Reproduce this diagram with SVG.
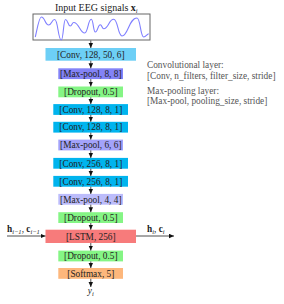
<svg xmlns="http://www.w3.org/2000/svg" width="284" height="304" viewBox="0 0 284 304">
<defs>
<style>
text{font-family:"Liberation Serif","Times New Roman",serif;font-size:9.3px;fill:#222}
.lbl{text-anchor:middle}
.note{fill:#555}
.sub{font-size:6.5px}
.b{font-weight:bold}
.it{font-style:italic}
.conv1{fill:#6dcff6}
.conv{fill:#00b4ee}
.pool1{fill:#8383f7}
.pool2{fill:#a3a3fa}
.pool3{fill:#bcbcfb}
.drop{fill:#85f585}
.lstm{fill:#f77b7b}
.soft{fill:#fdb77c}
.arr{stroke:#222;stroke-width:0.8;fill:none;marker-end:url(#ah)}
</style>
<marker id="ah" markerUnits="userSpaceOnUse" markerWidth="6" markerHeight="6" refX="5" refY="2.25" orient="auto">
<path d="M0,0 L5,2.25 L0,4.5 z" fill="#111"/>
</marker>
</defs>
<rect width="284" height="304" fill="#fff"/>

<g id="input">
<text x="55" y="10.7" style="font-size:10px">Input EEG signals <tspan class="b">x</tspan><tspan class="sub it" dy="1.8">i</tspan></text>
<rect x="33" y="14" width="117" height="26" fill="#fff" stroke="#666" stroke-width="1"/>
<path d="M35.3,37 C37,30 39,17 41.3,17 C45,17 45,25 48.7,25 C51.7,25 51.7,19.5 54.7,19.5 C58,19.5 58,40 61.3,40 C63.4,40 63.4,19.5 65.5,19.5 C67.9,19.5 67.9,26 70.3,26 C72,26 72,22.5 73.7,22.5 C79,22.5 80,33 84.7,33 C88,33 88,19.3 91.3,19.3 C93.3,19.3 93.3,32 95.3,32 C97.8,32 97.8,24.7 100.3,24.7 C102,24.7 102,28.7 103.7,28.7 C108.7,28.7 108.7,19.3 113.7,19.3 C117.9,19.3 117.9,36 122,36 C128,36 129,18 137,18 C140.4,18 140.4,37 143.7,37 C146,37 147,34 148.7,33.7" fill="none" stroke="#7f7fff" stroke-width="1.1"/>
</g>

<g id="conv1"><rect class="conv1" x="45.5" y="48" width="90.5" height="12.7"/><text class="lbl" x="90.8" y="57.6">[Conv, 128, 50, 6]</text></g>
<g id="pool1"><rect class="pool1" x="58.3" y="68.3" width="64.7" height="10.8"/><text class="lbl" x="90.8" y="76.9">[Max-pool, 8, 8]</text></g>
<g id="drop1"><rect class="drop" x="58.3" y="86.5" width="64.7" height="10.8"/><text class="lbl" x="90.8" y="95.1">[Dropout, 0.5]</text></g>
<g id="conv2"><rect class="conv" x="53.3" y="104.1" width="74.7" height="10.8"/><text class="lbl" x="90.8" y="112.7">[Conv, 128, 8, 1]</text></g>
<g id="conv3"><rect class="conv" x="53.3" y="121.8" width="74.7" height="10.8"/><text class="lbl" x="90.8" y="130.4">[Conv, 128, 8, 1]</text></g>
<g id="pool2"><rect class="pool2" x="58.3" y="139.6" width="64.7" height="10.8"/><text class="lbl" x="90.8" y="148.2">[Max-pool, 6, 6]</text></g>
<g id="conv4"><rect class="conv" x="53.3" y="157.9" width="74.7" height="10.8"/><text class="lbl" x="90.8" y="166.5">[Conv, 256, 8, 1]</text></g>
<g id="conv5"><rect class="conv" x="53.3" y="175.9" width="74.7" height="10.8"/><text class="lbl" x="90.8" y="184.5">[Conv, 256, 8, 1]</text></g>
<g id="pool3"><rect class="pool3" x="58.3" y="193.9" width="64.7" height="10.8"/><text class="lbl" x="90.8" y="202.5">[Max-pool, 4, 4]</text></g>
<g id="drop2"><rect class="drop" x="58.3" y="212.2" width="64.7" height="10.8"/><text class="lbl" x="90.8" y="220.8">[Dropout, 0.5]</text></g>
<g id="lstm"><rect class="lstm" x="45.5" y="229.7" width="90.5" height="13.3"/><text class="lbl" x="90.8" y="239.6">[LSTM, 256]</text></g>
<g id="drop3"><rect class="drop" x="58.3" y="250.6" width="64.7" height="10.8"/><text class="lbl" x="90.8" y="259.2">[Dropout, 0.5]</text></g>
<g id="softmax"><rect class="soft" x="58.3" y="268" width="64.7" height="10.8"/><text class="lbl" x="90.8" y="276.6">[Softmax, 5]</text></g>
<g id="output"><text class="lbl it" x="90.8" y="294">y<tspan class="sub" dy="1.8">i</tspan></text></g>

<g id="legend">
<text class="note" x="147" y="68">Convolutional layer:</text>
<text class="note" x="147" y="78.5">[Conv, n_filters, filter_size, stride]</text>
<text class="note" x="147" y="93.5">Max-pooling layer:</text>
<text class="note" x="147" y="104">[Max-pool, pooling_size, stride]</text>
</g>

<g id="state-in"><text x="7" y="232"><tspan class="b">h</tspan><tspan class="sub it" dy="1.8">i−1</tspan><tspan dy="-1.8">, </tspan><tspan class="b">c</tspan><tspan class="sub it" dy="1.8">i−1</tspan></text></g>
<g id="state-out"><text x="147" y="232"><tspan class="b">h</tspan><tspan class="sub it" dy="1.8">i</tspan><tspan dy="-1.8">, </tspan><tspan class="b">c</tspan><tspan class="sub it" dy="1.8">i</tspan></text></g>

<g id="connectors">
<line class="arr" x1="90.8" y1="40.5" x2="90.8" y2="48"/>
<line class="arr" x1="90.8" y1="60.7" x2="90.8" y2="68.3"/>
<line class="arr" x1="90.8" y1="79.1" x2="90.8" y2="86.5"/>
<line class="arr" x1="90.8" y1="97.3" x2="90.8" y2="104.1"/>
<line class="arr" x1="90.8" y1="114.9" x2="90.8" y2="121.8"/>
<line class="arr" x1="90.8" y1="132.6" x2="90.8" y2="139.6"/>
<line class="arr" x1="90.8" y1="150.4" x2="90.8" y2="157.9"/>
<line class="arr" x1="90.8" y1="168.7" x2="90.8" y2="175.9"/>
<line class="arr" x1="90.8" y1="186.7" x2="90.8" y2="193.9"/>
<line class="arr" x1="90.8" y1="204.7" x2="90.8" y2="212.2"/>
<line class="arr" x1="90.8" y1="223" x2="90.8" y2="229.7"/>
<line class="arr" x1="90.8" y1="243" x2="90.8" y2="250.6"/>
<line class="arr" x1="90.8" y1="261.4" x2="90.8" y2="268"/>
<line class="arr" x1="90.8" y1="278.8" x2="90.8" y2="287"/>
<line class="arr" x1="7" y1="236" x2="45.5" y2="236"/>
<line class="arr" x1="136" y1="236" x2="174" y2="236"/>
</g>
</svg>
